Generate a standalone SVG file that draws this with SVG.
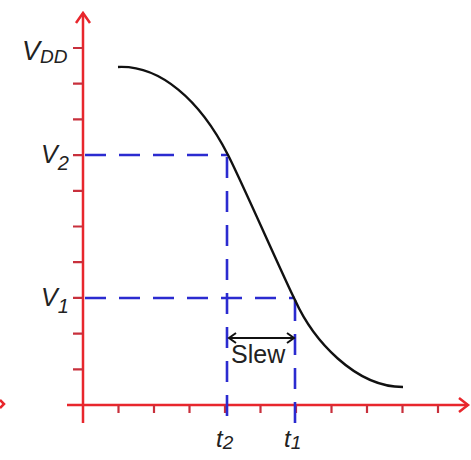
<svg xmlns="http://www.w3.org/2000/svg" width="471" height="460" viewBox="0 0 471 460">
<style>
.axis{stroke:#e8262c;stroke-width:2.5;fill:none}
.tick{stroke:#c8303c;stroke-width:2.2}
.dash{stroke:#2b2bd0;stroke-width:2.6;fill:none;stroke-dasharray:21 13}
.curve{stroke:#111;stroke-width:2.4;fill:none}
.lbl{font-family:"Liberation Sans",Arial,sans-serif;fill:#222}
.it{font-style:italic}
</style>
<rect width="471" height="460" fill="#fff"/>
<g id="axes">
<path class="axis" d="M83,13 V423 M67,405 H468"/>
<path class="axis" d="M76,23 L83,13 L90,23 M459,398 L468,405 L459,412"/>
<path class="axis" d="M0,400 L4,404 L0,408"/>
<g class="tick">
<path d="M73,48 H83 M73,83.7 H83 M73,119.4 H83 M73,155.1 H83 M73,190.8 H83 M73,226.5 H83 M73,262.2 H83 M73,297.9 H83 M73,333.6 H83 M73,369.3 H83"/>
<path d="M118.5,405 V413 M154,405 V413 M189.5,405 V413 M225,405 V413 M260.5,405 V413 M296,405 V413 M331.5,405 V413 M367,405 V413 M402.5,405 V413 M438,405 V413"/>
</g>
</g>
<g id="guides">
<path class="dash" d="M85,155 H228"/>
<path class="dash" d="M85,298 H295"/>
<path class="dash" d="M227,157 V423"/>
<path class="dash" d="M295,300 V423"/>
</g>
<g id="curve">
<path class="curve" d="M118,67 C160,65 200,100 228,155 C240,178 283,276 295,300 C313,340 355,387 403,387"/>
</g>
<g id="slew">
<path d="M229,338 H294 M236,333 L229,338 L236,343 M287,333 L294,338 L287,343" stroke="#111" stroke-width="2" fill="none"/>
<text class="lbl" x="231" y="363" font-size="25">Slew</text>
</g>
<g id="labels">
<text class="lbl it" x="22" y="60" font-size="27">V<tspan font-size="19" dy="3">DD</tspan></text>
<text class="lbl it" x="41" y="163" font-size="25">V<tspan font-size="20" dy="7">2</tspan></text>
<text class="lbl it" x="41" y="306" font-size="25">V<tspan font-size="20" dy="7">1</tspan></text>
<text class="lbl it" x="216" y="447" font-size="24">t<tspan font-size="19" dy="2">2</tspan></text>
<text class="lbl it" x="284" y="447" font-size="24">t<tspan font-size="19" dy="2">1</tspan></text>
</g>
</svg>
